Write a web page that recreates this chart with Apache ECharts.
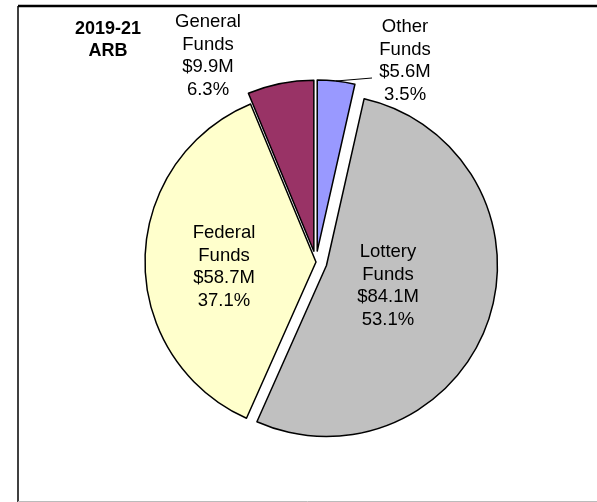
<!DOCTYPE html>
<html>
<head>
<meta charset="utf-8">
<script src="https://cdn.jsdelivr.net/npm/echarts@6/dist/echarts.min.js"></script>
<style>
  html, body { margin: 0; padding: 0; background: #fff; }
  #chart { width: 597px; height: 502px; }
</style>
</head>
<body>
<div id="chart"></div>
<script>
// Funding sources, clockwise from 12 o'clock
const fundNames = ['Other\nFunds', 'Lottery\nFunds', 'Federal\nFunds', 'General\nFunds'];
const fundValues = [5.6, 84.1, 58.7, 9.9]; // $ millions
const fundColors = ['#9999FF', '#C0C0C0', '#FFFFCC', '#993366'];
const explodedSlices = [true, true, false, true];
const insideLabels = [false, true, true, false];
const chartTitle = '2019-21\nARB';

// label anchor points (centre of each text block)
const labelSpots = [[405, 61], [388, 286], [224, 267], [208, 56]];

const chart = echarts.init(document.getElementById('chart'), null, { renderer: 'canvas' });

const pieCenter = [316, 262];
const pieRadius = 171;

// Slices (some pulled out from the centre)
const sliceData = fundNames.map((name, i) => ({
  name: name,
  value: fundValues[i],
  selected: explodedSlices[i],
  itemStyle: { color: fundColors[i] }
}));

// Same values again on a see-through layer that carries the labels,
// so the text is not shifted along with the pulled-out slices
const labelData = fundNames.map((name, i) => ({
  name: name,
  value: fundValues[i],
  label: { position: insideLabels[i] ? 'inside' : 'outside' },
  labelLine: { show: i === 0, lineStyle: { color: '#000', width: 1 } }
}));

chart.setOption({
  animation: false,
  graphic: [
    { type: 'line', shape: { x1: 18, y1: 6, x2: 597, y2: 6 }, style: { stroke: '#000', lineWidth: 2.5 }, z: 10 },
    { type: 'line', shape: { x1: 18, y1: 6, x2: 18, y2: 502 }, style: { stroke: '#000', lineWidth: 1.5 }, z: 10 },
    { type: 'line', shape: { x1: 18, y1: 501.5, x2: 597, y2: 501.5 }, style: { stroke: '#bbb', lineWidth: 1 }, z: 10 },
    {
      type: 'text', x: 108, y: 40, z: 10,
      style: {
        text: chartTitle, align: 'center', verticalAlign: 'middle',
        font: 'bold 18px "Liberation Sans", Arial, sans-serif', lineHeight: 22, fill: '#000'
      }
    }
  ],
  series: [{
    type: 'pie',
    center: pieCenter,
    radius: pieRadius,
    startAngle: 90,
    clockwise: true,
    selectedMode: 'multiple',
    selectedOffset: 11,
    emphasis: { disabled: true },
    itemStyle: { borderColor: '#000', borderWidth: 1.5 },
    label: { show: false },
    labelLine: { show: false },
    data: sliceData
  }, {
    type: 'pie',
    center: pieCenter,
    radius: pieRadius,
    startAngle: 90,
    clockwise: true,
    silent: true,
    z: 5,
    percentPrecision: 1,
    avoidLabelOverlap: false,
    emphasis: { disabled: true },
    itemStyle: { color: 'rgba(0,0,0,0)', borderWidth: 0 },
    label: {
      color: '#000',
      fontFamily: '"Liberation Sans", Arial, sans-serif',
      fontSize: 18.5,
      lineHeight: 22.5,
      align: 'center',
      formatter: p => p.name + '\n$' + p.value.toFixed(1) + 'M\n' + p.percent.toFixed(1) + '%'
    },
    labelLayout: function (params) {
      const i = params.dataIndex;
      const spot = labelSpots[i];
      const out = { x: spot[0], y: spot[1], align: 'center', verticalAlign: 'middle' };
      if (i === 0) {
        out.labelLinePoints = [[336, 81], [354, 79.5], [372, 78]];
      }
      return out;
    },
    data: labelData
  }]
});
</script>
</body>
</html>
